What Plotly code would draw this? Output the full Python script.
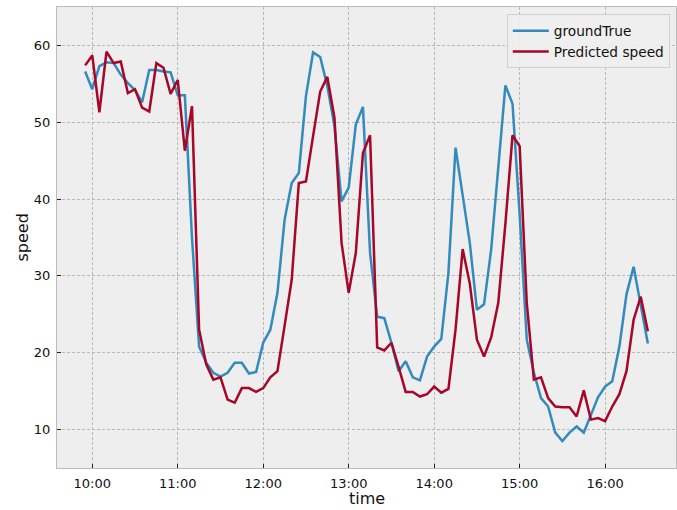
import pandas as pd
import plotly.graph_objects as go

# time stamps (5-minute samples, 09:55 .. 16:30)
times = pd.date_range("2000-01-01 09:55", "2000-01-01 16:30", freq="5min")

ground_true = [
    56.6, 54.3, 57.3, 57.8, 57.7, 56.2, 55.1, 54.2, 52.6, 56.8,
    56.8, 56.6, 56.5, 53.5, 53.5, 35.0, 20.8, 18.7, 17.4, 16.9,
    17.4, 18.7, 18.7, 17.3, 17.5, 21.3, 23.0, 27.8, 37.3, 42.1,
    43.4, 53.4, 59.1, 58.5, 54.7, 49.5, 39.7, 41.5, 49.7, 52.0,
    33.0, 24.7, 24.5, 21.3, 17.6, 18.9, 16.8, 16.4, 19.5, 20.8,
    21.8, 30.4, 46.7, 40.4, 34.3, 25.6, 26.3, 33.4, 44.3, 54.8,
    52.4, 38.0, 21.7, 17.4, 14.1, 13.0, 9.6, 8.5, 9.6, 10.4,
    9.6, 12.0, 14.2, 15.6, 16.3, 20.8, 27.6, 31.2, 26.0, 21.2,
]

predicted = [
    57.4, 58.7, 51.3, 59.2, 57.7, 57.9, 53.8, 54.3, 51.9, 51.4,
    57.7, 57.1, 53.7, 55.5, 46.3, 52.1, 23.0, 18.5, 16.5, 16.8,
    13.9, 13.5, 15.4, 15.4, 14.9, 15.4, 16.8, 17.6, 23.5, 29.5,
    42.1, 42.3, 48.2, 54.0, 55.9, 50.6, 34.3, 27.8, 33.0, 46.0,
    48.3, 20.7, 20.3, 21.3, 18.2, 14.9, 14.9, 14.3, 14.6, 15.6,
    14.8, 15.3, 23.0, 33.5, 29.0, 21.7, 19.5, 22.0, 26.5, 36.8,
    48.3, 46.9, 26.5, 16.5, 16.8, 14.1, 13.0, 12.9, 12.9, 11.7,
    15.1, 11.3, 11.5, 11.1, 13.0, 14.6, 17.6, 24.3, 27.3, 22.8,
]

tick_times = ["2000-01-01 10:00", "2000-01-01 11:00", "2000-01-01 12:00",
              "2000-01-01 13:00", "2000-01-01 14:00", "2000-01-01 15:00",
              "2000-01-01 16:00"]
tick_labels = ["10:00", "11:00", "12:00", "13:00", "14:00", "15:00", "16:00"]
y_ticks = [10, 20, 30, 40, 50, 60]

fig = go.Figure()
fig.add_trace(go.Scatter(x=times, y=ground_true, mode="lines", name="groundTrue",
                         line=dict(color="#348ABD", width=2.5)))
fig.add_trace(go.Scatter(x=times, y=predicted, mode="lines", name="Predicted speed",
                         line=dict(color="#A60628", width=2.5)))

font = "DejaVu Sans, Verdana, sans-serif"
txt = "#111111"
fig.update_layout(
    width=677, height=510,
    margin=dict(l=57, r=1, t=7, b=42, autoexpand=False),
    paper_bgcolor="white",
    plot_bgcolor="#EEEEEE",
    font=dict(family=font, size=13, color=txt),
    showlegend=True,
    legend=dict(x=0.99, y=0.984, xanchor="right", yanchor="top",
                bgcolor="rgba(238,238,238,0.9)", bordercolor="#d0d0d0", borderwidth=1,
                font=dict(size=13.7, family=font, color=txt),
                tracegroupgap=0, itemwidth=36),
    annotations=[
        dict(text="time", xref="paper", yref="paper", x=0.5, y=0, xanchor="center",
             yanchor="middle", yshift=-30, showarrow=False,
             font=dict(size=16, family=font, color=txt)),
        dict(text="speed", xref="paper", yref="paper", x=0, y=0.5, xanchor="center",
             yanchor="middle", xshift=-35, textangle=-90, showarrow=False,
             font=dict(size=16, family=font, color=txt)),
    ],
)
grid = dict(showgrid=True, gridcolor="#b8b8b8", gridwidth=0.6, griddash="3px,2px",
            showline=True, linecolor="#bcbcbc", linewidth=1, mirror=True,
            ticks="inside", ticklen=4, tickcolor="#222", tickwidth=1.2,
            zeroline=False, automargin=False, ticklabelstandoff=3)
fig.update_xaxes(
    range=["2000-01-01 09:35:15", "2000-01-01 16:49:45"],
    tickvals=tick_times, ticktext=tick_labels, **grid,
)
fig.update_yaxes(range=[5, 65], tickvals=y_ticks, **grid)

fig.write_html("out.html", config={"displayModeBar": False},
               post_script="document.body.style.margin='0';document.body.style.overflow='hidden';")
